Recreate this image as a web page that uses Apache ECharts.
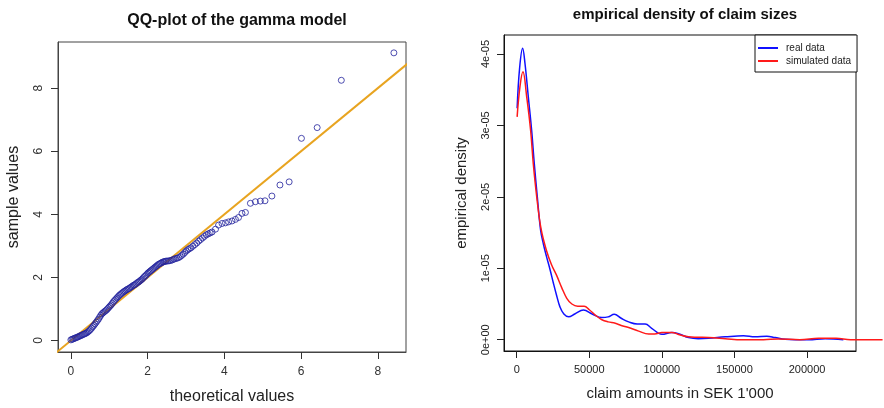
<!DOCTYPE html>
<html>
<head>
<meta charset="utf-8">
<script src="https://cdn.jsdelivr.net/npm/echarts@6/dist/echarts.min.js"></script>
<style>html,body{margin:0;padding:0;background:#fff}#c{width:884px;height:408px}</style>
</head>
<body>
<div id="c"></div>
<script>
// ---- left panel: QQ plot ----
const qqTheo = [
0.00,0.03,0.06,0.09,0.12,0.15,0.18,0.21,0.24,0.27,
0.30,0.33,0.36,0.39,0.42,0.45,0.48,0.51,0.54,0.57,
0.60,0.63,0.66,0.69,0.72,0.75,0.78,0.81,0.84,0.87,
0.90,0.93,0.96,0.99,1.02,1.05,1.08,1.11,1.14,1.17,
1.20,1.23,1.26,1.29,1.32,1.35,1.38,1.41,1.44,1.47,
1.50,1.53,1.56,1.59,1.62,1.65,1.68,1.71,1.74,1.77,
1.80,1.83,1.86,1.89,1.92,1.95,1.98,2.01,2.04,2.07,
2.10,2.13,2.16,2.19,2.22,2.25,2.28,2.31,2.34,2.37,
2.40,2.43,2.46,2.49,
2.53,2.57,2.61,2.65,2.69,2.73,2.77,2.81,2.85,2.89,2.93,2.97,3.01,3.05,3.09,3.13,
3.18,3.23,3.28,3.33,3.38,3.43,3.48,3.53,3.58,3.63,3.68,
3.77,3.85,3.94,4.03,4.11,4.20,4.29,4.37,4.46,4.55,
4.68,4.81,4.94,5.06,5.24,5.45,5.69,
6.01,6.42,7.05,8.42];
const qqSample = [
0.02,0.04,0.05,0.07,0.08,0.10,0.11,0.13,0.15,0.16,
0.18,0.20,0.21,0.23,0.25,0.28,0.31,0.35,0.39,0.44,
0.48,0.53,0.58,0.63,0.68,0.74,0.80,0.85,0.88,0.91,
0.94,0.97,1.01,1.05,1.09,1.13,1.18,1.23,1.27,1.31,
1.35,1.39,1.43,1.46,1.49,1.52,1.55,1.57,1.60,1.62,
1.64,1.66,1.69,1.71,1.74,1.76,1.78,1.81,1.84,1.86,
1.89,1.92,1.95,1.99,2.03,2.06,2.10,2.14,2.17,2.20,
2.23,2.26,2.29,2.32,2.35,2.38,2.41,2.43,2.45,2.47,
2.49,2.50,2.51,2.52,
2.52,2.53,2.54,2.56,2.58,2.60,2.61,2.63,2.66,2.70,2.74,2.79,2.84,2.88,2.91,2.94,
2.99,3.04,3.09,3.15,3.20,3.25,3.30,3.35,3.38,3.41,3.44,
3.53,3.66,3.71,3.73,3.76,3.79,3.84,3.90,4.03,4.06,
4.35,4.40,4.42,4.43,4.58,4.93,5.03,
6.41,6.75,8.25,9.12];
const qqRefLine = [[-1, -1], [10, 10]];
const qqTicks = [0, 2, 4, 6, 8];

// ---- right panel: densities ----
const realX = [300,2000,4100,5700,8000,10300,12100,14200,16500,18500,20600,23000,25300,27500,29800,
  32500,35800,40000,46000,52000,58700,63000,67200,72000,77100,83000,88500,93000,100000,106900,
  112000,118400,125000,132100,143600,156200,164200,172300,178000,184900,192000,201000,212400,225000];
const realY = [3.24,3.80,4.08,3.87,3.40,2.93,2.47,2.00,1.53,1.33,1.16,0.98,0.79,0.62,0.46,
  0.36,0.32,0.36,0.415,0.36,0.31,0.32,0.355,0.30,0.25,0.22,0.22,0.16,0.075,0.10,
  0.08,0.03,0.015,0.02,0.04,0.055,0.04,0.05,0.03,0.005,0.0,0.0,0.015,0.0].map(v => v * 1e-5);
const simX = [300,2300,4300,6900,9600,11400,13800,16800,20500,24000,27500,31000,34500,38000,42000,
  46500,50000,54100,58700,63000,67900,72000,77100,84000,90900,95000,100000,106900,112000,118400,
  125000,132100,143600,155000,170000,180000,195000,208000,220000,230000,252000];
const simY = [3.12,3.55,3.75,3.40,2.93,2.47,2.00,1.55,1.25,1.05,0.90,0.73,0.58,0.50,0.47,
  0.47,0.42,0.345,0.28,0.25,0.23,0.20,0.17,0.12,0.08,0.08,0.10,0.10,0.07,0.04,
  0.035,0.03,0.015,0.0,0.0,0.01,0.0,0.02,0.02,0.0,0.0].map(v => v * 1e-5);
const densXTicks = [0, 50000, 100000, 150000, 200000];
const densYTicks = [0, 1e-5, 2e-5, 3e-5, 4e-5];

// axis ranges (R style: data range extended by 4%)
const qqXRange = [-0.336, 8.736];
const qqYRange = [-0.364, 9.464];
const densXRange = [-8740, 233700];
const densYRange = [-0.158e-5, 4.266e-5];

const FONT = '"Liberation Sans", Arial, sans-serif';
const chart = echarts.init(document.getElementById('c'), null, {renderer: 'canvas'});

const qqPoints = qqTheo.map((t, i) => [t, qqSample[i]]);
const realData = realX.map((x, i) => [x, realY[i]]);
const simData = simX.map((x, i) => [x, simY[i]]);

// right plot box and an overflow area (R draws the simulated line past the box)
const rBox = {left: 504, top: 35, width: 352, height: 316};
const overflowWidth = 380;
const overflowMax = densXRange[0] + (densXRange[1] - densXRange[0]) * overflowWidth / rBox.width;

function yFmt(v) {
  if (Math.abs(v) < 1e-12) return '0e+00';
  return Math.round(v / 1e-5) + 'e-05';
}
function plainFmt(v) { return String(Math.round(v)); }

const axisLineL = {show: true, onZero: false, lineStyle: {color: '#444', width: 1}};
const axisLineR = {show: true, onZero: false, lineStyle: {color: '#111', width: 1}};

chart.setOption({
  animation: false,
  textStyle: {fontFamily: FONT},
  title: [
    {text: 'QQ-plot of the gamma model', left: 232, top: 8, textAlign: 'center',
     textStyle: {fontFamily: FONT, fontSize: 16, fontWeight: 'bold', color: '#111'}},
    {text: 'empirical density of claim sizes', left: 680, top: 2, textAlign: 'center',
     textStyle: {fontFamily: FONT, fontSize: 15, fontWeight: 'bold', color: '#111'}}
  ],
  grid: [
    {left: 58, top: 42, width: 348, height: 310, show: true, borderColor: '#444', borderWidth: 1,
     containLabel: false, outerBoundsMode: 'none'},
    {left: rBox.left, top: rBox.top, width: rBox.width, height: rBox.height, show: true, borderColor: '#111', borderWidth: 1,
     containLabel: false, outerBoundsMode: 'none'},
    {left: rBox.left, top: rBox.top, width: overflowWidth, height: rBox.height, show: false,
     containLabel: false, outerBoundsMode: 'none'}
  ],
  legend: {
    data: ['real data', 'simulated data'],
    orient: 'vertical',
    left: 755, top: 35, width: 101,
    padding: [8, 6, 6, 3],
    itemGap: 3,
    icon: 'rect',
    itemWidth: 20, itemHeight: 2,
    borderColor: '#111', borderWidth: 1, borderRadius: 0,
    backgroundColor: '#fff',
    textStyle: {fontFamily: FONT, fontSize: 10, color: '#222', padding: [0, 0, 0, 3]}
  },
  xAxis: [
    {type: 'value', gridIndex: 0, min: qqXRange[0], max: qqXRange[1],
     name: 'theoretical values', nameLocation: 'middle', nameGap: 37,
     nameTextStyle: {fontFamily: FONT, fontSize: 16, color: '#222'},
     axisLine: axisLineL, splitLine: {show: false},
     axisTick: {show: true, inside: false, length: 7, customValues: qqTicks, lineStyle: {color: '#333', width: 1}},
     axisLabel: {customValues: qqTicks, margin: 14, fontSize: 12, color: '#333', fontFamily: FONT}},
    {type: 'value', gridIndex: 1, min: densXRange[0], max: densXRange[1],
     name: "claim amounts in SEK 1'000", nameLocation: 'middle', nameGap: 35,
     nameTextStyle: {fontFamily: FONT, fontSize: 15, color: '#222'},
     axisLine: axisLineR, splitLine: {show: false},
     axisTick: {show: true, inside: false, length: 7, customValues: densXTicks, lineStyle: {color: '#222', width: 1}},
     axisLabel: {customValues: densXTicks, margin: 13, fontSize: 11, color: '#222', fontFamily: FONT, formatter: plainFmt}},
    {type: 'value', gridIndex: 2, min: densXRange[0], max: overflowMax, show: false}
  ],
  yAxis: [
    {type: 'value', gridIndex: 0, min: qqYRange[0], max: qqYRange[1],
     name: 'sample values', nameLocation: 'middle', nameGap: 36,
     nameTextStyle: {fontFamily: FONT, fontSize: 16, color: '#222'},
     axisLine: axisLineL, splitLine: {show: false},
     axisTick: {show: true, inside: false, length: 7, customValues: qqTicks, lineStyle: {color: '#333', width: 1}},
     axisLabel: {customValues: qqTicks, rotate: 90, margin: 13, fontSize: 12, color: '#333', fontFamily: FONT}},
    {type: 'value', gridIndex: 1, min: densYRange[0], max: densYRange[1],
     name: 'empirical density', nameLocation: 'middle', nameGap: 35,
     nameTextStyle: {fontFamily: FONT, fontSize: 15, color: '#222'},
     axisLine: axisLineR, splitLine: {show: false},
     axisTick: {show: true, inside: false, length: 7, customValues: densYTicks, lineStyle: {color: '#222', width: 1}},
     axisLabel: {customValues: densYTicks, rotate: 90, margin: 13, fontSize: 11, color: '#222', fontFamily: FONT, formatter: yFmt}},
    {type: 'value', gridIndex: 2, min: densYRange[0], max: densYRange[1], show: false}
  ],
  series: [
    {type: 'scatter', name: 'qq', xAxisIndex: 0, yAxisIndex: 0, data: qqPoints,
     symbol: 'circle', symbolSize: 6,
     itemStyle: {color: 'rgba(0,0,0,0)', borderColor: '#22229c', borderWidth: 1}, z: 3},
    {type: 'line', name: 'ref', xAxisIndex: 0, yAxisIndex: 0, data: qqRefLine,
     symbol: 'none', clip: true, lineStyle: {color: '#e8a420', width: 2}, z: 2},
    {type: 'line', name: 'real data', xAxisIndex: 1, yAxisIndex: 1, data: realData,
     symbol: 'none', smooth: 0.4, clip: true, lineStyle: {color: '#1010ff', width: 1.5}, itemStyle: {color: '#1010ff'}},
    {type: 'line', name: 'simulated data', xAxisIndex: 2, yAxisIndex: 2, data: simData,
     symbol: 'none', smooth: 0.4, clip: true, lineStyle: {color: '#ff1a1a', width: 1.5}, itemStyle: {color: '#ff1a1a'}}
  ]
});
</script>
</body>
</html>
